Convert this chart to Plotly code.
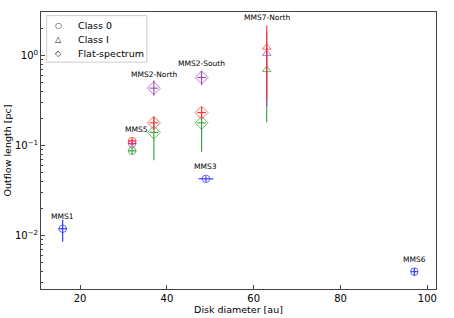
import numpy as np
import plotly.graph_objects as go

# ---- data ----
# each colour series: x (disk diameter, au), y (outflow length, pc), symbols, errors
blue_x = [16, 49, 97]
blue_y = [0.012, 0.043, 0.0040]
blue_sym = ["circle-open", "circle-open", "circle-open"]
blue_ey_up = [0.0031, 0.003, 0.0004]
blue_ey_dn = [0.0034, 0.003, 0.0004]
blue_ex = [1.0, 1.7, 0.8]

red_x = [32, 37, 48, 63]
red_y = [0.113, 0.180, 0.234, 1.24]
red_sym = ["circle-open", "diamond-open", "diamond-open", "triangle-up-open"]
red_ey_up = [0.010, 0.030, 0.035, 0.93]
red_ey_dn = [0.010, 0.030, 0.035, 0.90]
red_ex = [1.0, 1.0, 1.0, 0.0]

purple_x = [32, 37, 48, 63]
purple_y = [0.106, 0.437, 0.574, 1.06]
purple_sym = ["circle-open", "diamond-open", "diamond-open", "triangle-up-open"]
purple_ey_up = [0.008, 0.093, 0.106, 0.79]
purple_ey_dn = [0.008, 0.077, 0.104, 0.787]
purple_ex = [1.0, 1.0, 1.0, 0.0]

green_x = [32, 37, 48, 63]
green_y = [0.088, 0.141, 0.180, 0.70]
green_sym = ["circle-open", "diamond-open", "diamond-open", "triangle-up-open"]
green_ey_up = [0.008, 0.067, 0.082, 0.517]
green_ey_dn = [0.008, 0.072, 0.094, 0.517]
green_ex = [1.0, 1.0, 1.0, 0.0]

label_names = ["MMS1", "MMS3", "MMS5", "MMS2-North", "MMS2-South", "MMS7-North", "MMS6"]
label_x = [16, 49, 33, 37, 48, 63, 97]
label_y = [0.012, 0.043, 0.113, 0.437, 0.574, 2.17, 0.0040]

legend_names = ["Class 0", "Class I", "Flat-spectrum"]
legend_glyphs = ["○", "△", "◇"]

# ---- styles ----
FONT = "DejaVu Sans"
series = [
    (blue_x, blue_y, blue_sym, blue_ey_up, blue_ey_dn, blue_ex, "#2a2aff"),
    (green_x, green_y, green_sym, green_ey_up, green_ey_dn, green_ex, "#33a033"),
    (purple_x, purple_y, purple_sym, purple_ey_up, purple_ey_dn, purple_ex, "#a040b8"),
    (red_x, red_y, red_sym, red_ey_up, red_ey_dn, red_ex, "#ff3030"),
]
size_map = {"circle-open": 7.5, "diamond-open": 10, "triangle-up-open": 7.5}

fig = go.Figure()
for xs, ys, syms, eu, ed, ex, col in series:
    fig.add_trace(go.Scatter(
        x=xs, y=ys, mode="markers", showlegend=False,
        marker=dict(symbol=syms, size=[size_map[s] for s in syms],
                    color=col, line=dict(color=col, width=1)),
        error_y=dict(type="data", symmetric=False, array=eu, arrayminus=ed,
                     color=col, thickness=1.1, width=0),
        error_x=dict(type="data", array=ex, color=col, thickness=1.1, width=0),
    ))

shifts = {"MMS7-North": 8, "MMS2-North": 14, "MMS2-South": 14}
for n, lx, ly in zip(label_names, label_x, label_y):
    fig.add_annotation(x=lx, y=np.log10(ly), text=n, showarrow=False,
                       yshift=shifts.get(n, 12), font=dict(family=FONT, size=7.5, color="black"))

# legend box (drawn as text annotations inside a framed box)
fig.add_shape(type="rect", xref="paper", yref="paper", x0=0.0144, x1=0.268, y0=0.819, y1=0.987,
              line=dict(color="#cccccc", width=1), fillcolor="white", layer="above")
row_y = [0.951, 0.900, 0.849]
for g, n, ry in zip(legend_glyphs, legend_names, row_y):
    fig.add_annotation(xref="paper", yref="paper", x=0.044, y=ry, text=g, showarrow=False,
                       xanchor="center", yanchor="middle", font=dict(family=FONT, size=8, color="black"))
    fig.add_annotation(xref="paper", yref="paper", x=0.088, y=ry, text=n, showarrow=False,
                       xanchor="left", yanchor="middle", font=dict(family=FONT, size=9.5, color="black"))

minor_vals = [m * 10.0 ** e for e in range(-3, 1) for m in range(2, 10)]

fig.update_layout(
    width=454, height=318,
    margin=dict(l=41, r=18, t=12, b=29),
    paper_bgcolor="white", plot_bgcolor="white",
    font=dict(family=FONT, size=10, color="black"),
    showlegend=False,
    xaxis=dict(range=[11, 102], showgrid=False, zeroline=False, automargin=False,
               showline=True, linecolor="#444444", linewidth=1, mirror=True,
               ticks="inside", ticklen=4, tickcolor="#444444",
               tickvals=[20, 40, 60, 80, 100],
               title=dict(text="Disk diameter [au]", standoff=0, font=dict(size=9.5)),
               tickfont=dict(size=10)),
    yaxis=dict(type="log", range=[-2.59, 0.486], showgrid=False, zeroline=False, automargin=False,
               showline=True, linecolor="#444444", linewidth=1, mirror=True,
               ticks="inside", ticklen=4, tickcolor="#444444",
               tickvals=[0.01, 0.1, 1],
               ticktext=["10<sup>−2</sup>", "10<sup>−1</sup>", "10<sup>0</sup>"],
               minor=dict(ticks="inside", ticklen=2, tickcolor="#444444", tickvals=minor_vals),
               title=dict(text="Outflow length [pc]", standoff=1, font=dict(size=9.5)),
               tickfont=dict(size=10)),
)

fig.write_html("out.html", config={"displayModeBar": False},
               post_script="document.body.style.margin='0';")
